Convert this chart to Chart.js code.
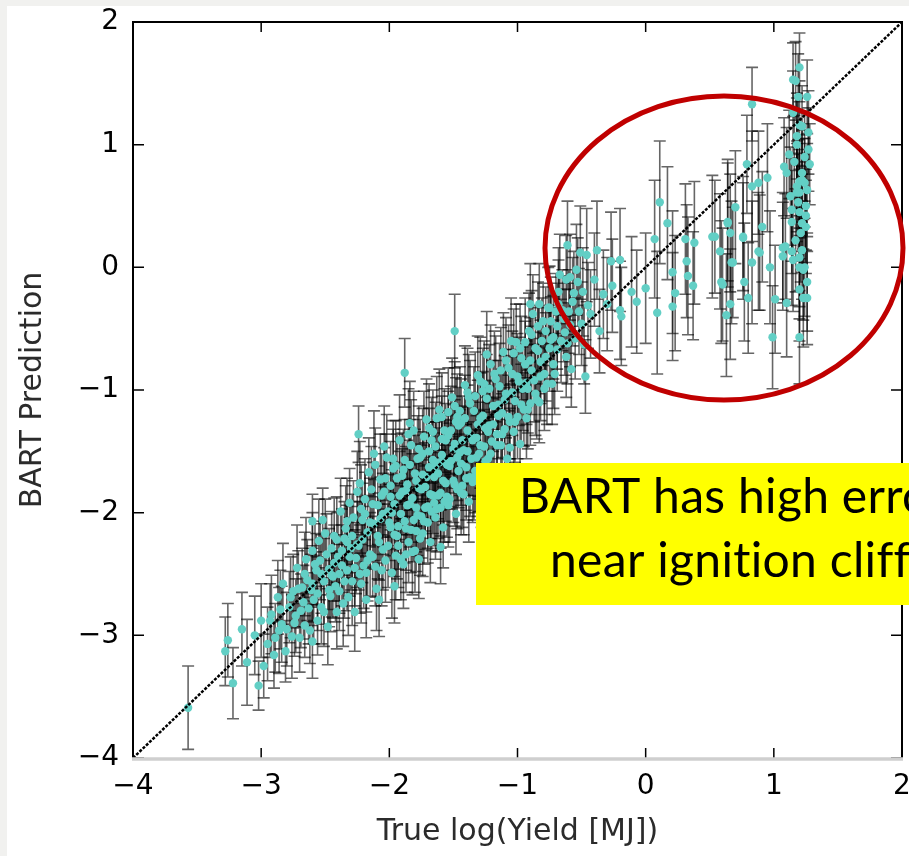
<!DOCTYPE html>
<html>
<head>
<meta charset="utf-8">
<script src="https://cdn.jsdelivr.net/npm/chart.js@4.4.1/dist/chart.umd.min.js"></script>
<style>
  body { margin: 0; background: #ffffff; }
  canvas { display: block; }
</style>
</head>
<body>
<canvas id="bartChart" width="909" height="856"></canvas>
<script>
// Axis ticks
const xTicks = [-4, -3, -2, -1, 0, 1, 2];
const yTicks = [-4, -3, -2, -1, 0, 1, 2];

// [true log yield, BART prediction, error bar half height]
// sparse low-yield tail and a few stray points
const tailPts = [
  [-3.57,-3.59,0.34],[-3.26,-3.04,0.3],[-3.28,-3.13,0.28],[-3.22,-3.39,0.29],
  [-3.02,-3.41,0.2],[-3.11,-3.22,0.35],[-3.05,-3.0,0.32],[-3.0,-2.88,0.3],
  [-2.98,-3.25,0.26],[-3.15,-2.95,0.3],[-2.6,-3.05,0.3],[-2.6,-2.07,0.22],
  [-2.24,-1.36,0.23],[-1.88,-0.86,0.28],[-1.6,-2.28,0.3],[-1.82,-2.32,0.35],
  [-1.49,-0.52,0.3]
];

// dense band along the diagonal
const bandPts = [
  [-2.95,-3.07,0.3],[-2.92,-2.83,0.32],[-2.9,-3.16,0.27],[-2.87,-2.69,0.3],[-2.86,-2.96,0.35],
  [-2.84,-2.91,0.31],[-2.83,-2.58,0.33],[-2.81,-3.13,0.25],[-2.78,-2.77,0.29],[-2.76,-3.01,0.34],[-2.75,-2.64,0.3],
  [-2.73,-2.84,0.3],[-2.72,-2.45,0.35],[-2.7,-3.02,0.28],[-2.68,-2.61,0.32],[-2.66,-2.92,0.26],[-2.65,-2.38,0.34],[-2.67,-2.73,0.3],
  [-2.64,-2.55,0.33],[-2.62,-2.96,0.27],[-2.6,-2.31,0.31],[-2.59,-2.71,0.36],[-2.57,-2.47,0.3],[-2.56,-2.88,0.28],[-2.55,-2.23,0.34],[-2.61,-2.63,0.29],
  [-2.54,-2.39,0.32],[-2.53,-2.77,0.3],[-2.51,-2.56,0.35],[-2.5,-2.17,0.28],[-2.48,-2.93,0.31],[-2.47,-2.46,0.33],[-2.46,-2.68,0.29],[-2.45,-2.29,0.3],[-2.52,-2.06,0.26],
  [-2.44,-2.52,0.34],[-2.43,-2.19,0.31],[-2.41,-2.81,0.3],[-2.4,-2.36,0.36],[-2.39,-2.64,0.32],[-2.38,-1.99,0.27],[-2.37,-2.43,0.33],[-2.36,-2.74,0.35],[-2.35,-2.21,0.3],[-2.42,-2.6,0.29],
  [-2.34,-2.13,0.35],[-2.33,-2.47,0.33],[-2.32,-2.69,0.31],[-2.31,-1.92,0.28],[-2.3,-2.29,0.34],[-2.29,-2.56,0.36],[-2.28,-2.04,0.3],[-2.27,-2.81,0.32],[-2.26,-2.37,0.29],[-2.25,-1.83,0.33],[-2.33,-2.24,0.3],
  [-2.24,-2.27,0.36],[-2.23,-1.76,0.34],[-2.22,-2.58,0.32],[-2.21,-2.06,0.3],[-2.2,-2.43,0.35],[-2.19,-1.89,0.33],[-2.18,-2.71,0.31],[-2.17,-2.16,0.3],[-2.16,-1.67,0.28],[-2.15,-2.34,0.34],[-2.22,-1.97,0.36],[-2.18,-2.49,0.32],
  [-2.14,-1.81,0.35],[-2.13,-2.36,0.33],[-2.12,-2.09,0.36],[-2.11,-1.61,0.3],[-2.1,-2.62,0.34],[-2.09,-1.94,0.32],[-2.08,-2.24,0.31],[-2.07,-1.73,0.37],[-2.06,-2.47,0.29],[-2.05,-2.01,0.33],[-2.12,-1.52,0.35],[-2.08,-2.71,0.3],[-2.06,-1.86,0.34],
  [-2.04,-1.83,0.36],[-2.03,-2.39,0.34],[-2.02,-1.55,0.35],[-2.0,-2.08,0.31],[-1.99,-1.87,0.33],[-1.98,-2.49,0.37],[-1.97,-1.64,0.32],[-1.96,-2.18,0.34],[-2.01,-1.99,0.3],[-1.95,-2.35,0.36],[-2.04,-1.46,0.33],[-1.99,-2.12,0.35],[-1.97,-1.56,0.31],[-1.96,-2.6,0.3],
  [-1.94,-1.72,0.36],[-1.93,-2.27,0.34],[-1.92,-1.41,0.37],[-1.91,-2.01,0.32],[-1.9,-1.83,0.35],[-1.89,-2.42,0.36],[-1.88,-1.57,0.33],[-1.87,-2.13,0.34],[-1.86,-1.94,0.3],[-1.85,-1.36,0.37],[-1.94,-2.19,0.35],[-1.89,-1.65,0.33],[-1.87,-2.34,0.31],[-1.86,-1.77,0.36],
  [-1.84,-1.61,0.37],[-1.83,-2.14,0.35],[-1.82,-1.88,0.36],[-1.81,-1.33,0.32],[-1.8,-2.31,0.34],[-1.79,-1.74,0.37],[-1.78,-2.02,0.33],[-1.77,-1.48,0.35],[-1.76,-2.21,0.3],[-1.75,-1.81,0.36],[-1.84,-1.27,0.34],[-1.79,-1.96,0.36],[-1.77,-2.38,0.32],[-1.76,-1.55,0.31],
  [-1.74,-1.52,0.37],[-1.73,-2.07,0.35],[-1.72,-1.79,0.36],[-1.71,-1.24,0.33],[-1.7,-1.95,0.34],[-1.69,-1.63,0.37],[-1.68,-2.24,0.33],[-1.67,-1.41,0.35],[-1.66,-1.86,0.31],[-1.65,-1.71,0.36],[-1.74,-2.17,0.35],[-1.69,-1.31,0.36],[-1.67,-1.99,0.32],[-1.66,-1.57,0.31],
  [-1.64,-1.46,0.36],[-1.63,-1.97,0.35],[-1.62,-1.68,0.37],[-1.61,-1.16,0.33],[-1.6,-1.84,0.35],[-1.59,-1.53,0.36],[-1.58,-2.12,0.33],[-1.57,-1.33,0.34],[-1.56,-1.76,0.31],[-1.55,-1.61,0.36],[-1.64,-2.04,0.34],[-1.59,-1.22,0.36],[-1.57,-1.91,0.33],[-1.56,-1.41,0.3],
  [-1.54,-1.37,0.36],[-1.53,-1.89,0.35],[-1.52,-1.58,0.37],[-1.51,-1.06,0.32],[-1.5,-1.74,0.34],[-1.49,-1.44,0.36],[-1.48,-2.01,0.33],[-1.47,-1.22,0.35],[-1.46,-1.66,0.3],[-1.45,-1.51,0.35],[-1.54,-1.94,0.34],[-1.49,-1.13,0.36],[-1.47,-1.81,0.32],[-1.46,-1.29,0.31],
  [-1.44,-1.27,0.36],[-1.43,-1.78,0.34],[-1.42,-1.49,0.36],[-1.41,-0.96,0.32],[-1.4,-1.63,0.35],[-1.39,-1.33,0.37],[-1.38,-1.91,0.33],[-1.37,-1.11,0.35],[-1.36,-1.56,0.3],[-1.35,-1.41,0.35],[-1.44,-1.84,0.34],[-1.39,-1.02,0.36],[-1.37,-1.71,0.32],
  [-1.34,-1.17,0.36],[-1.33,-1.66,0.34],[-1.32,-1.39,0.36],[-1.31,-0.88,0.32],[-1.3,-1.52,0.35],[-1.29,-1.23,0.37],[-1.28,-1.79,0.33],[-1.27,-1.01,0.35],[-1.26,-1.46,0.3],[-1.25,-1.31,0.35],[-1.34,-1.72,0.34],[-1.29,-0.93,0.36],
  [-1.24,-1.07,0.36],[-1.23,-1.56,0.34],[-1.22,-1.29,0.36],[-1.21,-0.79,0.32],[-1.2,-1.42,0.35],[-1.19,-1.13,0.37],[-1.18,-1.67,0.33],[-1.17,-0.91,0.35],[-1.16,-1.36,0.3],[-1.15,-1.21,0.35],[-1.24,-0.71,0.35],
  [-1.14,-0.97,0.35],[-1.13,-1.45,0.34],[-1.12,-1.19,0.36],[-1.11,-0.69,0.32],[-1.1,-1.32,0.34],[-1.09,-1.03,0.36],[-1.08,-1.56,0.32],[-1.07,-0.82,0.35],[-1.06,-1.26,0.3],[-1.05,-0.6,0.35],
  [-1.04,-0.87,0.35],[-1.03,-1.34,0.33],[-1.02,-1.09,0.36],[-1.01,-0.61,0.31],[-1.0,-1.22,0.34],[-0.99,-0.93,0.36],[-0.98,-1.44,0.32],[-0.97,-0.74,0.34],[-0.95,-1.16,0.3],
  [-0.94,-0.79,0.35],[-0.93,-1.23,0.33],[-0.92,-0.99,0.36],[-0.91,-0.52,0.31],[-0.9,-1.11,0.34],[-0.89,-0.84,0.36],[-0.88,-0.38,0.32],[-0.86,-1.03,0.34],[-0.9,-0.3,0.33],
  [-0.84,-0.68,0.35],[-0.83,-1.1,0.33],[-0.82,-0.89,0.36],[-0.8,-0.44,0.31],[-0.79,-0.99,0.34],[-0.78,-0.73,0.36],[-0.76,-0.33,0.33],[-0.83,-0.3,0.33],
  [-0.74,-0.59,0.35],[-0.73,-0.95,0.33],[-0.72,-0.79,0.36],[-0.7,-0.36,0.31],[-0.69,-0.67,0.34],[-0.68,-0.3,0.36],[-0.67,-0.06,0.33],[-0.75,-0.33,0.34],[-0.65,-0.35,0.33],
  [-0.63,-0.53,0.35],[-0.62,-0.73,0.33],[-0.61,0.18,0.36],[-0.6,-0.36,0.34],[-0.59,-0.08,0.35],[-0.58,-0.83,0.31],[-0.56,-0.21,0.34],
  [-0.53,-0.12,0.36],[-0.51,0.12,0.38],[-0.5,-0.46,0.34],[-0.48,-0.63,0.32],[-0.47,-0.89,0.3],[-0.46,0.1,0.38],[-0.45,-0.31,0.35],
  [-0.43,-0.38,0.36],[-0.4,-0.1,0.38],[-0.38,0.14,0.4],[-0.36,-0.52,0.34],[-0.33,-0.22,0.36],
  [-0.3,-0.3,0.38],[-0.27,0.05,0.4],[-0.26,-0.15,0.38],[-0.2,0.06,0.42],[-0.2,-0.35,0.4],[-0.19,-0.4,0.4],[-0.11,-0.2,0.45],[-0.07,-0.28,0.42]
];

// more points filling the core of the band
const bandFillPts = [
  [-2.93,-2.88,0.3],[-2.89,-3.02,0.28],[-2.85,-2.79,0.32],[-2.8,-2.95,0.3],[-2.77,-2.69,0.33],[-2.74,-2.9,0.27],[-2.71,-2.62,0.31],[-2.69,-2.8,0.3],
  [-2.66,-2.5,0.34],[-2.63,-2.78,0.29],[-2.6,-2.58,0.31],[-2.58,-2.42,0.33],[-2.56,-2.66,0.3],[-2.53,-2.5,0.32],[-2.51,-2.81,0.28],
  [-2.49,-2.34,0.33],[-2.47,-2.63,0.3],[-2.45,-2.51,0.34],[-2.43,-2.41,0.31],[-2.41,-2.22,0.35],[-2.39,-2.5,0.32],[-2.37,-2.31,0.34],[-2.35,-2.56,0.3],
  [-2.33,-2.07,0.35],[-2.31,-2.36,0.32],[-2.29,-2.19,0.34],[-2.27,-2.45,0.31],[-2.25,-2.26,0.35],[-2.23,-2.5,0.32],[-2.21,-2.22,0.35],[-2.19,-2.01,0.34],
  [-2.17,-2.39,0.33],[-2.15,-2.08,0.36],[-2.13,-1.93,0.34],[-2.11,-2.44,0.32],[-2.09,-2.19,0.35],[-2.07,-2.05,0.34],[-2.05,-2.3,0.33],[-2.03,-1.72,0.36],[-2.01,-2.27,0.34],
  [-1.99,-1.78,0.36],[-1.98,-2.0,0.35],[-1.96,-1.93,0.34],[-1.95,-1.62,0.37],[-1.93,-2.11,0.35],[-1.92,-1.86,0.36],[-1.91,-2.38,0.33],[-1.9,-1.7,0.35],
  [-1.88,-2.07,0.34],[-1.87,-1.82,0.36],[-1.85,-2.24,0.33],[-1.84,-1.93,0.35],[-1.83,-1.45,0.37],[-1.81,-2.06,0.34],[-1.8,-1.68,0.36],[-1.79,-2.15,0.33],
  [-1.78,-1.56,0.35],[-1.77,-1.8,0.36],[-1.75,-2.03,0.34],[-1.74,-1.69,0.35],[-1.73,-1.38,0.37],[-1.72,-1.96,0.34],[-1.71,-1.71,0.36],[-1.7,-2.08,0.33],
  [-1.69,-1.5,0.35],[-1.68,-1.85,0.36],[-1.66,-1.34,0.34],[-1.65,-1.92,0.35],[-1.64,-1.62,0.36],[-1.63,-1.23,0.34],[-1.62,-1.86,0.35],[-1.61,-1.59,0.36],
  [-1.6,-1.96,0.33],[-1.59,-1.4,0.35],[-1.58,-1.74,0.36],[-1.57,-1.58,0.34],[-1.55,-1.87,0.33],[-1.54,-1.18,0.36],[-1.53,-1.62,0.35],[-1.52,-1.33,0.36],
  [-1.5,-1.48,0.36],[-1.49,-1.77,0.34],[-1.48,-1.26,0.36],[-1.47,-1.55,0.35],[-1.45,-1.17,0.36],[-1.44,-1.6,0.34],[-1.43,-1.41,0.36],[-1.42,-1.85,0.33],
  [-1.41,-1.23,0.35],[-1.4,-1.72,0.34],[-1.39,-1.5,0.36],[-1.38,-1.06,0.35],[-1.36,-1.38,0.36],[-1.35,-1.75,0.33],[-1.33,-1.05,0.36],[-1.32,-1.55,0.34],
  [-1.31,-1.28,0.36],[-1.3,-1.66,0.33],[-1.29,-1.45,0.35],[-1.27,-1.21,0.36],[-1.26,-0.95,0.35],[-1.25,-1.58,0.33],[-1.23,-1.34,0.35],[-1.22,-0.99,0.36],
  [-1.21,-1.52,0.34],[-1.19,-1.28,0.36],[-1.18,-0.87,0.35],[-1.16,-1.45,0.34],[-1.15,-1.12,0.36],[-1.13,-0.84,0.35],[-1.12,-1.36,0.33],[-1.1,-1.08,0.36],
  [-1.09,-0.76,0.35],[-1.07,-1.22,0.34],[-1.06,-1.47,0.32],[-1.04,-1.02,0.35],[-1.03,-0.7,0.36],[-1.02,-1.26,0.33],
  [-1.0,-0.89,0.35],[-0.98,-0.66,0.36],[-0.97,-1.12,0.33],[-0.96,-0.99,0.34],[-0.94,-0.61,0.36],[-0.93,-0.94,0.34],[-0.92,-1.16,0.32],[-0.9,-0.76,0.35],
  [-0.89,-0.55,0.36],[-0.87,-0.92,0.34],[-0.86,-0.66,0.35],[-0.85,-1.08,0.32],[-0.84,-0.48,0.36],[-0.82,-0.77,0.34],[-0.81,-0.6,0.35],[-0.79,-0.87,0.33],
  [-0.78,-0.52,0.36],[-0.77,-0.95,0.33],[-0.75,-0.66,0.35],[-0.74,-0.44,0.36],[-0.72,-0.57,0.34],[-0.71,-0.87,0.33],[-0.69,-0.48,0.35],[-0.68,-0.2,0.36],
  [-0.66,-0.6,0.34],[-0.64,-0.42,0.35],[-0.62,-0.1,0.36],[-0.61,-0.62,0.33],[-0.59,-0.47,0.34],[-0.57,-0.28,0.36],[-0.55,-0.58,0.33],[-0.54,-0.02,0.37],
  [-0.52,-0.36,0.35],[-0.49,-0.2,0.36]
];

// scattered points between the band and the cliff
const ridgePts = [
  [0.0,-0.17,0.45],[0.09,-0.37,0.5],[0.07,0.23,0.48],[0.11,0.53,0.5],[0.17,0.36,0.46],[0.21,-0.04,0.5],
  [0.21,-0.32,0.44],[0.23,-0.21,0.47],[0.31,0.23,0.45],[0.38,0.2,0.5],[0.32,0.05,0.46],[0.33,-0.07,0.48],
  [0.37,-0.15,0.44],[0.52,0.25,0.5],[0.58,0.13,0.47],[0.59,-0.12,0.5],[0.64,0.36,0.52],[0.66,0.28,0.48],
  [0.67,0.04,0.5],[0.66,-0.3,0.45],[0.63,-0.39,0.5],[0.7,0.49,0.46],[0.76,0.24,0.5],[0.77,-0.12,0.48],
  [0.8,-0.25,0.45],[0.83,0.04,0.5],[0.89,0.12,0.47],[0.91,0.33,0.45],[0.97,0.0,0.46],[1.01,-0.26,0.44],
  [0.99,-0.57,0.42],[0.83,1.33,0.3],[0.79,0.84,0.4],[0.83,0.66,0.45],[0.88,0.69,0.42],[0.95,0.73,0.44],
  [0.64,0.37,0.48],[0.54,0.25,0.46],[0.76,0.25,0.44],[0.6,-0.14,0.46],[0.88,0.13,0.48],[0.68,0.04,0.45]
];

// near-vertical column at the ignition cliff
const cliffPts = [
  [1.2,1.63,0.28],[1.15,1.53,0.3],[1.17,1.52,0.32],[1.19,1.39,0.35],[1.26,1.39,0.3],[1.15,1.26,0.34],
  [1.2,1.16,0.36],[1.22,1.15,0.33],[1.18,1.07,0.35],[1.18,1.0,0.38],[1.27,0.96,0.34],[1.12,0.92,0.36],
  [1.28,0.84,0.33],[1.08,0.82,0.4],[1.1,0.77,0.37],[1.22,0.77,0.35],[1.2,0.7,0.38],[1.24,0.69,0.36],
  [1.18,0.61,0.4],[1.22,0.71,0.34],[1.18,0.66,0.37],[1.2,0.61,0.35],[1.26,0.63,0.38],[1.19,0.53,0.4],
  [1.14,0.47,0.42],[1.2,0.45,0.38],[1.25,0.5,0.36],[1.22,0.36,0.4],[1.25,0.33,0.38],[1.14,0.37,0.42],
  [1.07,0.16,0.45],[1.14,0.13,0.44],[1.15,0.06,0.42],[1.2,0.08,0.4],[1.2,0.0,0.42],[1.24,0.0,0.4],
  [1.07,0.09,0.44],[1.26,-0.12,0.4],[1.2,-0.18,0.42],[1.1,-0.29,0.44],[1.2,-0.57,0.38],[1.23,-0.25,0.4],
  [1.26,-0.25,0.38],[1.09,0.17,0.43],[1.23,-0.02,0.41],[1.22,0.14,0.4],[1.24,0.9,0.36],[1.16,0.86,0.38],
  [1.21,0.28,0.4],[1.17,0.22,0.42],[1.27,1.1,0.34],[1.13,0.58,0.4],[1.25,0.42,0.38]
];

const allPts = tailPts.concat(bandPts, bandFillPts, ridgePts, cliffPts);
const minusFmt = v => (v < 0 ? '\u2212' + Math.abs(v) : String(v));

// grey slide margin at the top and left
const slideBackground = {
  id: 'slideBackground',
  beforeDraw(chart) {
    const ctx = chart.ctx;
    ctx.save();
    ctx.fillStyle = '#ffffff';
    ctx.fillRect(0, 0, chart.width, chart.height);
    ctx.fillStyle = '#f1f1ef';
    ctx.fillRect(0, 0, chart.width, 6);
    ctx.fillRect(0, 0, 7, chart.height);
    ctx.restore();
  }
};

// vertical error bars with caps
const errorBars = {
  id: 'errorBars',
  beforeDatasetsDraw(chart) {
    const { ctx, chartArea, scales: { x, y } } = chart;
    ctx.save();
    ctx.beginPath();
    ctx.rect(chartArea.left, chartArea.top, chartArea.width, chartArea.height);
    ctx.clip();
    ctx.strokeStyle = 'rgba(0,0,0,0.6)';
    ctx.lineWidth = 1.6;
    chart.data.datasets[1].data.forEach(p => {
      const px = x.getPixelForValue(p.x);
      const top = y.getPixelForValue(p.y + p.e);
      const bot = y.getPixelForValue(p.y - p.e);
      ctx.beginPath();
      ctx.moveTo(px, top); ctx.lineTo(px, bot);
      ctx.moveTo(px - 6, top); ctx.lineTo(px + 6, top);
      ctx.moveTo(px - 6, bot); ctx.lineTo(px + 6, bot);
      ctx.stroke();
    });
    ctx.restore();
  }
};

// matplotlib style box with inward ticks on all sides
const axesFrame = {
  id: 'axesFrame',
  afterDatasetsDraw(chart) {
    const { ctx, chartArea: a, scales: { x, y } } = chart;
    ctx.save();
    ctx.strokeStyle = '#000';
    ctx.lineWidth = 1.5;
    ctx.beginPath();
    xTicks.forEach(t => {
      const px = x.getPixelForValue(t);
      ctx.moveTo(px, a.bottom); ctx.lineTo(px, a.bottom - 10);
      ctx.moveTo(px, a.top); ctx.lineTo(px, a.top + 10);
    });
    yTicks.forEach(t => {
      const py = y.getPixelForValue(t);
      ctx.moveTo(a.left, py); ctx.lineTo(a.left + 11, py);
      ctx.moveTo(a.right, py); ctx.lineTo(a.right - 11, py);
    });
    ctx.stroke();
    ctx.lineWidth = 2;
    ctx.beginPath();
    ctx.moveTo(a.left, a.bottom);
    ctx.lineTo(a.left, a.top);
    ctx.lineTo(a.right, a.top);
    ctx.lineTo(a.right, a.bottom);
    ctx.stroke();
    ctx.strokeStyle = '#cfcfcf';
    ctx.lineWidth = 3.5;
    ctx.beginPath();
    ctx.moveTo(a.left - 1, a.bottom + 1);
    ctx.lineTo(a.right + 1, a.bottom + 1);
    ctx.stroke();
    ctx.restore();
  }
};

// slide annotations: red ellipse and yellow call-out
const slideNotes = {
  id: 'slideNotes',
  afterDraw(chart) {
    const ctx = chart.ctx;
    ctx.save();
    ctx.strokeStyle = '#c00000';
    ctx.lineWidth = 5;
    ctx.beginPath();
    ctx.ellipse(724, 248, 179, 152, 0, 0, Math.PI * 2);
    ctx.stroke();

    ctx.fillStyle = '#ffff00';
    ctx.fillRect(476, 463, 440, 142);
    ctx.fillStyle = '#000';
    ctx.font = '48px Lato';
    ctx.letterSpacing = '0.3px';
    ctx.textBaseline = 'alphabetic';
    ctx.fillText('BART has high error', 519, 513);
    ctx.fillText('near ignition cliff', 550, 577);
    ctx.restore();
  }
};

const ctx = document.getElementById('bartChart').getContext('2d');
const bartChart = new Chart(ctx, {
  type: 'scatter',
  data: {
    datasets: [
      {
        label: 'y = x',
        type: 'line',
        data: [{ x: -4, y: -4 }, { x: 2, y: 2 }],
        borderColor: '#000',
        borderWidth: 2.5,
        borderDash: [3, 1.5],
        pointRadius: 0,
        order: 0
      },
      {
        label: 'BART',
        data: allPts.map(p => ({ x: p[0], y: p[1], e: p[2] })),
        backgroundColor: '#62cfc5',
        borderWidth: 0,
        pointRadius: 4.2,
        order: 1
      }
    ]
  },
  options: {
    responsive: false,
    animation: false,
    layout: { padding: { top: 22, right: 7, left: 0, bottom: 0 } },
    plugins: { legend: { display: false }, tooltip: { enabled: false } },
    scales: {
      x: {
        type: 'linear',
        min: -4,
        max: 2,
        grid: { display: false, drawTicks: false },
        border: { display: false },
        afterBuildTicks: s => { s.ticks = xTicks.map(v => ({ value: v })); },
        afterFit: s => { s.height = 98; s.paddingLeft = 0; s.paddingRight = 0; },
        ticks: {
          padding: 12,
          color: '#000',
          font: { family: 'DejaVu Sans', size: 28 },
          callback: minusFmt
        },
        title: {
          display: true,
          text: 'True log(Yield [MJ])',
          color: '#2b2b2b',
          font: { family: 'DejaVu Sans', size: 30 },
          padding: { bottom: 6 }
        }
      },
      y: {
        type: 'linear',
        min: -4,
        max: 2,
        grid: { display: false, drawTicks: false },
        border: { display: false },
        afterBuildTicks: s => { s.ticks = yTicks.map(v => ({ value: v })); },
        afterFit: s => { s.width = 133; s.paddingTop = 0; s.paddingBottom = 0; },
        ticks: {
          padding: 14,
          color: '#000',
          font: { family: 'DejaVu Sans', size: 28 },
          callback: minusFmt
        },
        title: {
          display: true,
          text: 'BART Prediction',
          color: '#2b2b2b',
          font: { family: 'DejaVu Sans', size: 30 },
          padding: { top: 15 }
        }
      }
    }
  },
  plugins: [slideBackground, errorBars, axesFrame, slideNotes]
});
</script>
</body>
</html>
